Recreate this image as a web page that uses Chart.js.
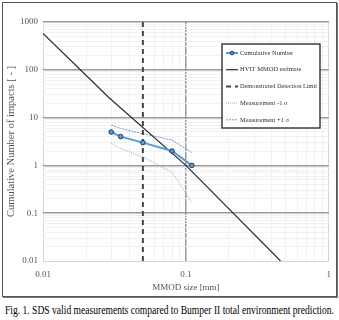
<!DOCTYPE html>
<html>
<head>
<meta charset="utf-8">
<script src="https://cdn.jsdelivr.net/npm/chart.js@4/dist/chart.umd.min.js"></script>
<style>
  html, body { margin: 0; padding: 0; background: #fff; }
  body { width: 339px; height: 320px; position: relative; overflow: hidden; }
  #frame { position: absolute; left: 2px; top: 2px; width: 333px; height: 293px;
           border: 1px solid #555; box-shadow: 1px 1px 0 #777; }
  #wrap { position: absolute; left: 0; top: 0; width: 339px; height: 297px; }
  #caption { position: absolute; left: 0; top: 303px; width: 339px; white-space: nowrap;
             font-family: "Liberation Serif", serif; font-size: 12px; color: #000; }
  #caption span { display: inline-block; transform-origin: 0 0; margin-left: 5px; }
</style>
</head>
<body>
<div id="frame"></div>
<div id="wrap"><canvas id="chart" width="339" height="297"></canvas></div>
<div id="caption"><span id="capText">Fig. 1. SDS valid measurements compared to Bumper II total environment prediction.</span></div>
<script>
// measured points (MMOD size mm) and cumulative counts
const sizeMeas = [0.03, 0.035, 0.05, 0.08, 0.11];
const cumNumber = [5, 4, 3, 2, 1];
const measMinus = [2.9, 2.25, 1.5, 0.72, 0.17];
const measPlus = [7.0, 5.9, 4.6, 3.4, 1.85];

// HVIT MMOD estimate
const hvitSize = [0.01, 0.029, 0.1, 0.46];
const hvitImpacts = [580, 26, 1, 0.01];

// detection limit
const limitSize = [0.05, 0.05];
const limitImpacts = [0.01, 1000];

const xTicks = [0.01, 0.1, 1];
const yTicks = [0.01, 0.1, 1, 10, 100, 1000];

const labels = ['Cumulative Number', 'HVIT MMOD estimate', 'Demonstrated Detection Limit',
                'Measurement -1 \u03c3', 'Measurement +1 \u03c3'];

function pts(xs, ys) {
  return xs.map((x, i) => ({ x: x, y: ys[i] }));
}

// minor ticks 1..9 in each decade between the labelled ones
function logTicks(major) {
  const out = [];
  for (let i = 0; i < major.length - 1; i++) {
    for (let k = 1; k < 10; k++) out.push({ value: major[i] * k });
  }
  out.push({ value: major[major.length - 1] });
  return out;
}

function isMajor(v, major) {
  return major.some(m => Math.abs(v / m - 1) < 1e-6);
}

const serif = '"Liberation Serif", "Times New Roman", serif';

const legendBox = {
  id: 'legendBox',
  afterDraw(chart) {
    const ctx = chart.ctx;
    const x0 = 222, y0 = 44, w = 98, h = 84;
    ctx.save();
    ctx.fillStyle = '#fff';
    ctx.fillRect(x0, y0, w, h);
    ctx.strokeStyle = '#222';
    ctx.lineWidth = 1.3;
    ctx.strokeRect(x0, y0, w, h);
    chart.data.datasets.forEach((d, i) => {
      const y = y0 + 9 + i * 16.7;
      ctx.beginPath();
      ctx.setLineDash(d.borderDash || []);
      ctx.strokeStyle = d.borderColor;
      ctx.lineWidth = d.borderWidth;
      ctx.moveTo(x0 + 4, y);
      ctx.lineTo(x0 + 16, y);
      ctx.stroke();
      ctx.setLineDash([]);
      if (i === 0) {
        ctx.beginPath();
        ctx.arc(x0 + 10, y, 1.8, 0, Math.PI * 2);
        ctx.fillStyle = d.pointBackgroundColor;
        ctx.fill();
        ctx.strokeStyle = d.pointBorderColor;
        ctx.lineWidth = 1;
        ctx.stroke();
      }
      ctx.fillStyle = '#333';
      ctx.font = '6.5px ' + serif;
      ctx.textBaseline = 'middle';
      ctx.fillText(d.label, x0 + 18, y, w - 21);
    });
    ctx.restore();
  }
};

new Chart(document.getElementById('chart'), {
  type: 'scatter',
  data: {
    datasets: [
      {
        label: labels[0], data: pts(sizeMeas, cumNumber), showLine: true,
        borderColor: '#5b9bd5', borderWidth: 2,
        pointRadius: 2.3, pointBackgroundColor: '#5b9bd5', pointBorderColor: '#1f3a5a',
        pointBorderWidth: 1, order: 0
      },
      {
        label: labels[1], data: pts(hvitSize, hvitImpacts), showLine: true,
        borderColor: '#2b2b2b', borderWidth: 1.2, pointRadius: 0, order: 1
      },
      {
        label: labels[2], data: pts(limitSize, limitImpacts), showLine: true,
        borderColor: '#444', borderWidth: 2, borderDash: [5, 4], pointRadius: 0, order: 2
      },
      {
        label: labels[3], data: pts(sizeMeas, measMinus), showLine: true,
        borderColor: '#8db3e2', borderWidth: 1, borderDash: [1, 1], pointRadius: 0, order: 3
      },
      {
        label: labels[4], data: pts(sizeMeas, measPlus), showLine: true,
        borderColor: '#6f9bd8', borderWidth: 1, borderDash: [2, 1], pointRadius: 0, order: 4
      }
    ]
  },
  options: {
    responsive: false,
    animation: false,
    layout: { padding: { left: 0, top: 22, right: 10, bottom: 0 } },
    plugins: { legend: { display: false }, tooltip: { enabled: false } },
    scales: {
      x: {
        type: 'logarithmic', min: 0.01, max: 1,
        afterBuildTicks(s) { s.ticks = logTicks(xTicks); },
        afterFit(s) { s.height = 36; },
        border: { display: false },
        grid: {
          drawTicks: false,
          color(c) {
            const v = c.tick.value;
            if (!isMajor(v, xTicks)) return '#f1f1f1';
            return (v === 0.1) ? '#9a9a9a' : '#d4d4d4';
          },
          lineWidth(c) { return (c.tick.value === 0.1) ? 1.5 : 1; }
        },
        ticks: {
          autoSkip: false, maxRotation: 0, padding: 8, color: '#555',
          font: { family: serif, size: 9 },
          callback(v) { return isMajor(v, xTicks) ? String(v) : ''; }
        },
        title: {
          display: true, text: 'MMOD size [mm]', color: '#555',
          font: { family: serif, size: 9 }, padding: { top: 0, bottom: 3.6 }
        }
      },
      y: {
        type: 'logarithmic', min: 0.01, max: 1000,
        afterBuildTicks(s) { s.ticks = logTicks(yTicks); },
        afterFit(s) { s.width = 43; },
        border: { display: false },
        grid: {
          drawTicks: false,
          color(c) {
            const v = c.tick.value;
            if (!isMajor(v, yTicks)) return '#f1f1f1';
            return (v === 0.01) ? '#d4d4d4' : '#9a9a9a';
          },
          lineWidth(c) { return (isMajor(c.tick.value, yTicks) && c.tick.value !== 0.01) ? 1.5 : 1; }
        },
        ticks: {
          autoSkip: false, padding: 5, color: '#555',
          font: { family: serif, size: 9 },
          callback(v) { return isMajor(v, yTicks) ? String(v) : ''; }
        },
        title: {
          display: true, text: 'Cumulative Number of impacts [ - ]', color: '#555',
          font: { family: serif, size: 10.5 }, padding: { top: 5, bottom: 0 }
        }
      }
    }
  },
  plugins: [legendBox]
});

// squeeze caption to the reference width
const cap = document.getElementById('capText');
const wCap = cap.getBoundingClientRect().width;
cap.style.transform = 'scaleX(' + (329 / wCap) + ')';
</script>
</body>
</html>
